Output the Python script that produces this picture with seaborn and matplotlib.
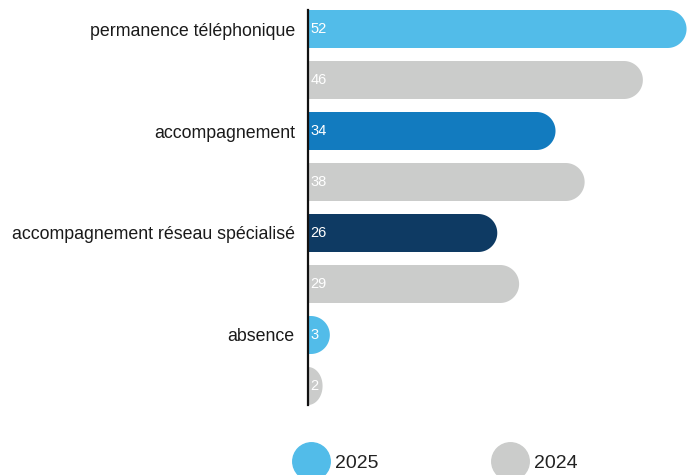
import numpy as np
import pandas as pd
import matplotlib.pyplot as plt
import seaborn as sns
from matplotlib.patches import Polygon
from matplotlib.lines import Line2D

categories = ['permanence téléphonique', 'accompagnement',
              'accompagnement réseau spécialisé', 'absence']
values_2025 = [52, 34, 26, 3]
values_2024 = [46, 38, 29, 2]
colors_2025 = ['#52bce9', '#127bbf', '#0e3a63', '#52bce9']
grey = '#cbcccb'

df = pd.DataFrame({
    'cat': categories * 2,
    'val': values_2025 + values_2024,
    'year': ['2025'] * 4 + ['2024'] * 4,
})

sns.set_style('white')
plt.rcParams['font.family'] = ['Liberation Sans', 'DejaVu Sans']

fig = plt.figure(figsize=(6.88, 4.75), dpi=100)
ax = fig.add_axes([308 / 688, 70 / 475, 380 / 688, 395 / 475])

sns.barplot(data=df, x='val', y='cat', hue='year', hue_order=['2025', '2024'],
            palette=['#52bce9', grey], width=1.0, gap=0.255, legend=False, ax=ax)

ax.set_xlim(0, 52.2)
ax.set_ylim(3.4363, -0.4363)

# replace rectangles by bars with a rounded right end
rects = [p for p in ax.patches]
px_per_x = ax.transData.transform((1, 0))[0] - ax.transData.transform((0, 0))[0]
px_per_y = abs(ax.transData.transform((0, 1))[1] - ax.transData.transform((0, 0))[1])
for i, r in enumerate(rects):
    x0, y0 = r.get_x(), r.get_y()
    w, h = r.get_width(), r.get_height()
    if w <= 0:
        continue
    yc = y0 + h / 2
    rx = (h / 2) * px_per_y / px_per_x
    rx = min(rx, w)
    cx = x0 + w - rx
    t = np.linspace(-np.pi / 2, np.pi / 2, 60)
    arc = np.column_stack([cx + rx * np.cos(t), yc + (h / 2) * np.sin(t)])
    verts = np.vstack([[[x0, yc - h / 2]], arc, [[x0, yc + h / 2]]])
    if i < 4:
        fc = colors_2025[i]
    else:
        fc = grey
    ax.add_patch(Polygon(verts, closed=True, facecolor=fc, edgecolor='none', zorder=2))
    r.set_visible(False)
    ax.text(0.35, yc, f'{w:g}', color='white', va='center', ha='left',
            fontsize=10.5, zorder=3)

ax.set_yticks([k - 0.25 for k in range(len(categories))])
ax.set_yticklabels(categories, fontsize=12.8, color='#1a1a1a')
ax.tick_params(axis='y', length=0, pad=9.5)
ax.set_xticks([])
ax.set_xlabel('')
ax.set_ylabel('')
for s in ['top', 'right', 'bottom']:
    ax.spines[s].set_visible(False)
ax.spines['left'].set_color('#111111')
ax.spines['left'].set_linewidth(1.6)
ax.spines['left'].set_zorder(4)

handles = [Line2D([], [], marker='o', ls='', markersize=27, color='#52bce9'),
           Line2D([], [], marker='o', ls='', markersize=27, color=grey)]
fig.legend(handles, ['2025', '2024'], loc='center', bbox_to_anchor=(0.632, 0.025),
           ncol=2, frameon=False, fontsize=14, handletextpad=0.25,
           columnspacing=5.75, labelcolor='#222222')

fig.savefig('out.png', dpi=100)
